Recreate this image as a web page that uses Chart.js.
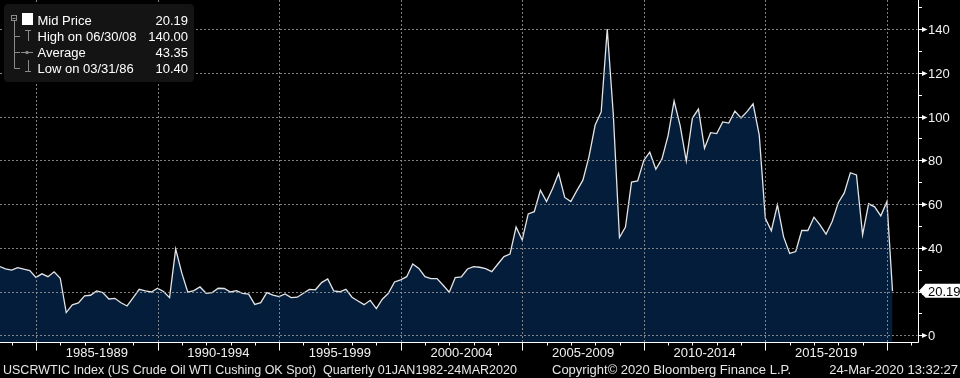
<!DOCTYPE html>
<html><head><meta charset="utf-8">
<script src="https://cdn.jsdelivr.net/npm/chart.js@4.4.1/dist/chart.umd.min.js"></script>
<style>html,body{margin:0;padding:0;background:#000;overflow:hidden}#wrap{width:960px;height:378px;position:relative}</style>
</head><body><div id="wrap"><canvas id="c" width="960" height="378"></canvas></div>
<script>
// ---- data (quarter-end WTI spot) ----
const dates = [
 '1983-06-30','1983-09-30','1983-12-31',
 '1984-03-31','1984-06-30','1984-09-30','1984-12-31',
 '1985-03-31','1985-06-30','1985-09-30','1985-12-31',
 '1986-03-31','1986-06-30','1986-09-30','1986-12-31',
 '1987-03-31','1987-06-30','1987-09-30','1987-12-31',
 '1988-03-31','1988-06-30','1988-09-30','1988-12-31',
 '1989-03-31','1989-06-30','1989-09-30','1989-12-31',
 '1990-03-31','1990-06-30','1990-09-30','1990-12-31',
 '1991-03-31','1991-06-30','1991-09-30','1991-12-31',
 '1992-03-31','1992-06-30','1992-09-30','1992-12-31',
 '1993-03-31','1993-06-30','1993-09-30','1993-12-31',
 '1994-03-31','1994-06-30','1994-09-30','1994-12-31',
 '1995-03-31','1995-06-30','1995-09-30','1995-12-31',
 '1996-03-31','1996-06-30','1996-09-30','1996-12-31',
 '1997-03-31','1997-06-30','1997-09-30','1997-12-31',
 '1998-03-31','1998-06-30','1998-09-30','1998-12-31',
 '1999-03-31','1999-06-30','1999-09-30','1999-12-31',
 '2000-03-31','2000-06-30','2000-09-30','2000-12-31',
 '2001-03-31','2001-06-30','2001-09-30','2001-12-31',
 '2002-03-31','2002-06-30','2002-09-30','2002-12-31',
 '2003-03-31','2003-06-30','2003-09-30','2003-12-31',
 '2004-03-31','2004-06-30','2004-09-30','2004-12-31',
 '2005-03-31','2005-06-30','2005-09-30','2005-12-31',
 '2006-03-31','2006-06-30','2006-09-30','2006-12-31',
 '2007-03-31','2007-06-30','2007-09-30','2007-12-31',
 '2008-03-31','2008-06-30','2008-09-30','2008-12-31',
 '2009-03-31','2009-06-30','2009-09-30','2009-12-31',
 '2010-03-31','2010-06-30','2010-09-30','2010-12-31',
 '2011-03-31','2011-06-30','2011-09-30','2011-12-31',
 '2012-03-31','2012-06-30','2012-09-30','2012-12-31',
 '2013-03-31','2013-06-30','2013-09-30','2013-12-31',
 '2014-03-31','2014-06-30','2014-09-30','2014-12-31',
 '2015-03-31','2015-06-30','2015-09-30','2015-12-31',
 '2016-03-31','2016-06-30','2016-09-30','2016-12-31',
 '2017-03-31','2017-06-30','2017-09-30','2017-12-31',
 '2018-03-31','2018-06-30','2018-09-30','2018-12-31',
 '2019-03-31','2019-06-30','2019-09-30','2019-12-31',
 '2020-03-24'
];
const prices = [
 31.5, 30.4, 29.8,
 30.9, 30.2, 29.6, 26.5,
 28.1, 26.8, 29.0, 26.1,
 10.4, 13.9, 14.8, 18.0,
 18.3, 20.3, 19.5, 16.6,
 16.9, 14.9, 13.4, 17.2,
 21.0, 20.3, 19.8, 21.5,
 20.0, 17.2, 39.4, 28.4,
 19.7, 20.4, 22.1, 19.2,
 19.5, 21.5, 21.4, 19.8,
 20.4, 19.2, 18.8, 14.1,
 14.9, 19.5, 18.4, 17.7,
 18.9, 17.2, 17.4, 19.2,
 21.0, 20.8, 24.1, 25.8,
 20.3, 19.9, 21.0, 17.4,
 15.7, 14.0, 16.0, 12.2,
 16.5, 19.2, 24.4, 25.3,
 26.8, 32.6, 30.6, 26.8,
 25.9, 25.9, 22.9, 19.7,
 26.4, 26.7, 30.3, 31.4,
 31.1, 30.5, 29.1, 32.6,
 36.0, 37.1, 49.5, 43.6,
 55.5, 56.5, 66.3, 61.1,
 67.0, 74.0, 63.0, 61.1,
 66.1, 70.9, 81.7, 96.1,
 102.1, 140.0, 100.6, 44.7,
 49.5, 70.0, 70.6, 79.9,
 83.7, 75.9, 80.6, 91.3,
 107.1, 95.8, 79.7, 99.3,
 103.4, 85.5, 92.6, 92.2,
 97.5, 97.0, 102.5, 99.3,
 102.2, 105.8, 91.6, 53.5,
 47.8, 59.6, 45.1, 37.4,
 38.3, 47.9, 47.9, 54.0,
 50.5, 46.2, 52.0, 60.6,
 65.1, 74.3, 73.3, 45.9,
 60.1, 58.7, 54.6, 61.1,
 20.19
];
const yTicks = [0, 20, 40, 60, 80, 100, 120, 140];
const yMinorTicks = [10, 30, 50, 70, 90, 110, 130, 150];
const periodStarts = [1985, 1990, 1995, 2000, 2005, 2010, 2015, 2020];
const periodLabels = ['1985-1989', '1990-1994', '1995-1999', '2000-2004', '2005-2009', '2010-2014', '2015-2019'];
const legendLabels = ['Mid Price', 'High on 06/30/08', 'Average', 'Low on 03/31/86'];
const legendValues = ['20.19', '140.00', '43.35', '10.40'];
const lastValue = 20.19;
const lastLabel = '20.19';
const footerLeft = 'USCRWTIC Index (US Crude Oil WTI Cushing OK Spot)  Quarterly 01JAN1982-24MAR2020';
const footerMid = 'Copyright\u00A9 2020 Bloomberg Finance L.P.';
const footerRight = '24-Mar-2020 13:32:27';

function decYear(s){
  const [y,m,d] = s.split('-').map(Number);
  const a = Date.UTC(y,0,1), b = Date.UTC(y+1,0,1);
  return y + (Date.UTC(y,m-1,d) - a) / (b - a);
}
const points = dates.map((d,i)=>({x: decYear(d), y: prices[i]}));

const FONT = '13px "Liberation Sans", Arial, sans-serif';
const FONT_SMALL = '12.5px "Liberation Sans", Arial, sans-serif';

const overlay = {
  id: 'overlay',
  beforeDraw(chart){
    const c = chart.ctx;
    c.save(); c.fillStyle = '#000'; c.fillRect(0,0,chart.width,chart.height); c.restore();
  },
  afterDatasetsDraw(chart){
    const c = chart.ctx, xs = chart.scales.x, ys = chart.scales.y, a = chart.chartArea;
    c.save();
    // dashed grid
    c.strokeStyle = 'rgba(150,150,150,0.85)'; c.lineWidth = 1; c.setLineDash([2,2]);
    yTicks.forEach(v=>{
      const y = Math.round(ys.getPixelForValue(v)) + 0.5;
      c.beginPath(); c.moveTo(a.left, y); c.lineTo(a.right, y); c.stroke();
    });
    periodStarts.forEach(v=>{
      const x = Math.round(xs.getPixelForValue(v)) + 0.5;
      c.beginPath(); c.moveTo(x, a.top); c.lineTo(x, a.bottom); c.stroke();
    });
    c.setLineDash([]);
    // axes
    c.strokeStyle = '#ffffff'; c.lineWidth = 1;
    const ax = Math.round(a.right) + 0.5, ay = Math.round(a.bottom) + 0.5;
    c.beginPath(); c.moveTo(ax, a.top); c.lineTo(ax, ay); c.moveTo(a.left, ay); c.lineTo(ax, ay); c.stroke();
    // x ticks
    for (let yr = Math.ceil(xs.min); yr <= Math.floor(xs.max); yr++){
      const x = Math.round(xs.getPixelForValue(yr)) + 0.5;
      const big = periodStarts.includes(yr);
      c.beginPath(); c.moveTo(x, ay); c.lineTo(x, ay + (big ? 8 : 3)); c.stroke();
    }
    // x labels
    c.fillStyle = '#f2f2f2'; c.font = FONT; c.textAlign = 'center'; c.textBaseline = 'alphabetic';
    periodLabels.forEach((l,i)=>{
      const x = (xs.getPixelForValue(periodStarts[i]) + xs.getPixelForValue(periodStarts[i+1])) / 2;
      c.fillText(l, x, 356.5);
    });
    // y ticks + labels
    c.textAlign = 'left';
    yMinorTicks.forEach(v=>{
      const y = Math.round(ys.getPixelForValue(v)) + 0.5;
      c.beginPath(); c.moveTo(ax, y); c.lineTo(ax + 3.5, y); c.stroke();
    });
    yTicks.forEach(v=>{
      const y = Math.round(ys.getPixelForValue(v)) + 0.5;
      c.beginPath(); c.moveTo(ax, y); c.lineTo(ax + 4, y); c.stroke();
      c.beginPath(); c.moveTo(ax + 3.5, y - 2.5); c.lineTo(ax + 9, y); c.lineTo(ax + 3.5, y + 2.5); c.closePath(); c.fillStyle = '#ffffff'; c.fill();
      c.fillStyle = '#f2f2f2'; c.fillText(String(v), ax + 9.5, y + 4.5);
    });
    // last value tag
    const ly = ys.getPixelForValue(lastValue);
    c.fillStyle = '#ffffff';
    c.beginPath(); c.moveTo(ax + 0.5, ly - 0.5); c.lineTo(ax + 7, ly - 7.5); c.lineTo(960, ly - 7.5); c.lineTo(960, ly + 6.5); c.lineTo(ax + 7, ly + 6.5); c.closePath(); c.fill();
    c.fillStyle = '#000'; c.fillText(lastLabel, ax + 9.5, ly + 4.5);
    // legend box
    c.fillStyle = '#141414';
    c.beginPath(); c.roundRect(4, 4, 190, 78, 4); c.fill();
    c.strokeStyle = '#8a8a8a'; c.lineWidth = 1;
    c.strokeRect(11.5, 15.5, 5, 5);
    c.beginPath(); c.moveTo(12.5, 18.5); c.lineTo(15.5, 18.5); c.stroke();
    c.beginPath(); c.moveTo(14.5, 21); c.lineTo(14.5, 68.5); c.stroke();
    [36.5, 52.5, 68.5].forEach(y=>{ c.beginPath(); c.moveTo(14.5, y); c.lineTo(20, y); c.stroke(); });
    // T (high)
    c.beginPath(); c.moveTo(25, 30.5); c.lineTo(31, 30.5); c.moveTo(28.5, 30.5); c.lineTo(28.5, 41); c.stroke();
    // average -o-
    c.beginPath(); c.moveTo(21, 52.5); c.lineTo(33, 52.5); c.stroke();
    c.fillStyle = '#8a8a8a'; c.beginPath(); c.arc(27, 52.5, 1.7, 0, Math.PI*2); c.fill();
    // low
    c.beginPath(); c.moveTo(28.5, 60); c.lineTo(28.5, 71.5); c.moveTo(25, 71.5); c.lineTo(31, 71.5); c.stroke();
    // white square
    c.fillStyle = '#ffffff'; c.fillRect(22, 13, 11, 12);
    // texts
    c.font = FONT; c.fillStyle = '#ffffff';
    const rowsY = [25, 41, 57, 73];
    legendLabels.forEach((l,i)=>{ c.textAlign='left'; c.fillText(l, 37.5, rowsY[i]); c.textAlign='right'; c.fillText(legendValues[i], 188, rowsY[i]); });
    // footer
    c.fillStyle = '#e6e6e6'; c.textAlign = 'left';
    c.font = FONT_SMALL;
    c.fillText(footerLeft, 3, 373.5);
    c.font = FONT;
    c.fillText(footerMid, 552, 373.5);
    c.textAlign = 'right'; c.fillText(footerRight, 958, 373.5);
    c.restore();
  }
};

new Chart(document.getElementById('c').getContext('2d'), {
  type: 'line',
  data: { datasets: [{
    data: points, parsing: false,
    borderColor: '#e4e4e4', borderWidth: 1.3,
    backgroundColor: '#041d3a', fill: 'start',
    pointRadius: 0, tension: 0
  }]},
  options: {
    responsive: false, animation: false, devicePixelRatio: 1,
    layout: { padding: { left: 0, right: 42.5, top: 0, bottom: 36 } },
    scales: {
      x: { type: 'linear', display: false, min: 1983.5194, max: 2021.255 },
      y: { type: 'linear', display: false, min: -3.062, max: 153.25 }
    },
    plugins: { legend: { display: false }, tooltip: { enabled: false } }
  },
  plugins: [overlay]
});
</script></body></html>
